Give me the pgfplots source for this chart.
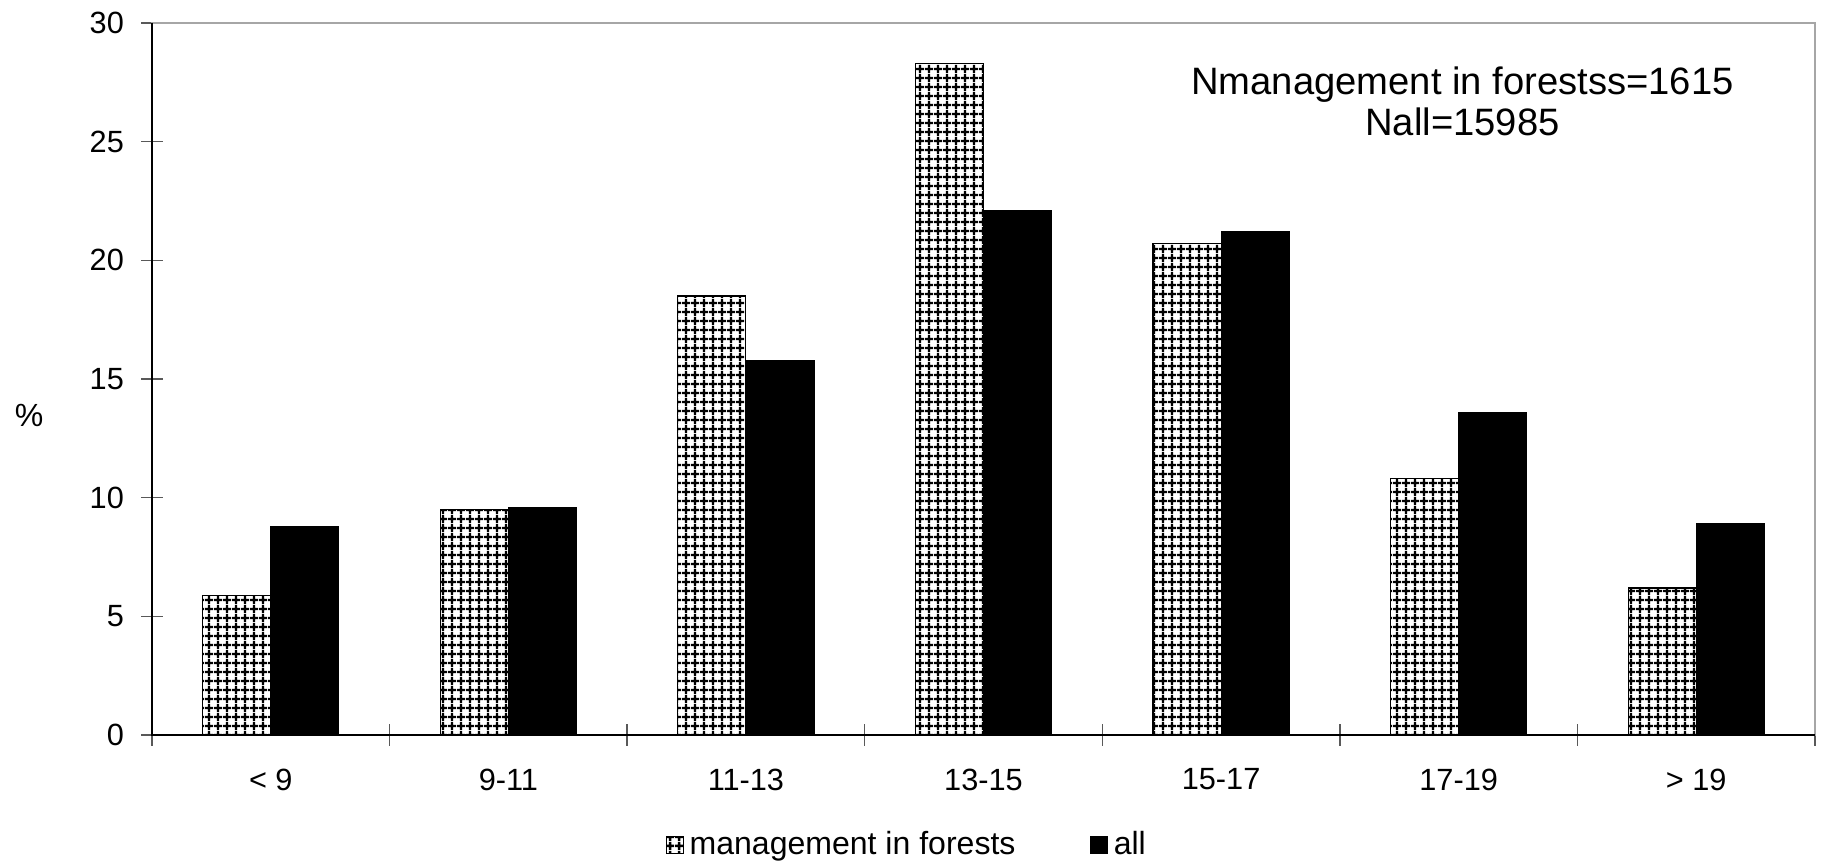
\documentclass[border=0pt]{standalone}
\usepackage{pgfplots}
\pgfplotsset{compat=1.18}
\usepackage{fontspec}
\setmainfont{Liberation Sans}
\usetikzlibrary{patterns}

\pgfdeclarepatternformonly{mygrid}{\pgfqpoint{0pt}{0pt}}{\pgfqpoint{3.2pt}{3.2pt}}{\pgfqpoint{3.2pt}{3.2pt}}{%
  \pgfsetlinewidth{0.9pt}%
  \pgfpathmoveto{\pgfqpoint{0pt}{1.6pt}}\pgfpathlineto{\pgfqpoint{3.2pt}{1.6pt}}%
  \pgfpathmoveto{\pgfqpoint{1.6pt}{0pt}}\pgfpathlineto{\pgfqpoint{1.6pt}{3.2pt}}%
  \pgfusepath{stroke}}

\begin{document}
\begin{tikzpicture}
\begin{axis}[
  scale only axis,
  width=622.8pt, height=266.7pt,
  ybar=0pt,
  bar width=25.5pt,
  xmin=-0.5, xmax=6.5,
  ymin=0, ymax=30,
  ytick={0,5,...,30},
  xtick={0,...,6},
  xticklabels={{< 9},{9-11},{11-13},{13-15},{15-17},{17-19},{> 19}},
  minor xtick={-0.5,0.5,...,6.5},
  major x tick style={draw=none},
  tick align=center,
  major tick length=8pt,
  minor tick length=8pt,
  xtick pos=bottom, ytick pos=left,
  tick style={gray!70!black, line width=0.5pt},
  axis line style={draw=gray!70, line width=0.4pt},
  ticklabel style={font=\fontsize{11.5}{13}\selectfont},
  /pgf/number format/assume math mode=true,
  yticklabel style={xshift=-3pt},
  xticklabel style={yshift=-5pt},
  legend columns=2,
  legend style={draw=none, inner sep=1pt, at={(rel axis cs:0.455,-0.1545)}, anchor=center,
    font=\fontsize{12}{14}\selectfont,
    /tikz/every even column/.append style={column sep=26pt}},
  legend image code/.code={\draw[#1, line width=0.4pt] (0pt,-3pt) rectangle (6.4pt,3.4pt);},
  clip=false,
]
\addplot[draw=black, line width=0.4pt, pattern=mygrid] coordinates {
  (0,5.9) (1,9.5) (2,18.5) (3,28.3) (4,20.7) (5,10.8) (6,6.2)
};
\addlegendentry{management in forests}
\addplot[draw=black, fill=black] coordinates {
  (0,8.8) (1,9.6) (2,15.8) (3,22.1) (4,21.2) (5,13.6) (6,8.9)
};
\addlegendentry{all}
\draw[black, line width=0.8pt] (rel axis cs:0,1) -- (rel axis cs:0,0) -- (rel axis cs:1,0);
\node[font=\fontsize{12}{14}\selectfont] at ([xshift=-46pt]rel axis cs:0,0.449) {\%};
\node[align=center, font=\fontsize{14.3}{15.5}\selectfont] at (rel axis cs:0.788,0.890)
  {Nmanagement in forestss=1615\\Nall=15985};
\path (rel axis cs:-0.0914,-0.184) rectangle (rel axis cs:1.0036,1.0323);
\end{axis}
\end{tikzpicture}
\end{document}
